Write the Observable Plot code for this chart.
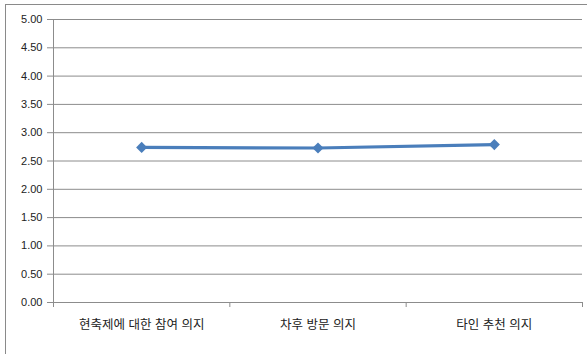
<!DOCTYPE html>
<html>
<head>
<meta charset="utf-8">
<script src="https://cdn.jsdelivr.net/npm/d3@7"></script>
<script src="https://cdn.jsdelivr.net/npm/@observablehq/plot@0.6"></script>
<style>
  html, body { margin: 0; padding: 0; background: #fff; }
  #wrap { position: relative; width: 587px; height: 354px; overflow: hidden; }
  #box { position: absolute; left: 5px; top: 4px; width: 600px; height: 400px; border: 1px solid #8a8a8a; box-sizing: border-box; }
  #wrap svg { position: absolute; left: 0; top: 0; }
</style>
</head>
<body>
<div id="wrap"><div id="box"></div></div>
<script>
// Intention scores per category
const categories = ["현축제에 대한 참여 의지", "차후 방문 의지", "타인 추천 의지"];
const scores = [2.74, 2.73, 2.79];
const yTicks = [0, 0.5, 1, 1.5, 2, 2.5, 3, 3.5, 4, 4.5, 5];

// Each category sits in the middle of its own unit slot along x
const data = categories.map((c, i) => ({pos: i + 0.5, category: c, score: scores[i]}));
const slotEdges = d3.range(categories.length + 1);
const gray = "#8c8c8c";
const font = "'Liberation Sans', 'Noto Sans CJK KR', sans-serif";

const chart = Plot.plot({
  width: 587,
  height: 354,
  marginLeft: 53,
  marginRight: 5,
  marginTop: 19,
  marginBottom: 52,
  style: {fontFamily: font, fontSize: "11px", color: "#222", background: "transparent"},
  x: {domain: [0, categories.length], label: null},
  y: {domain: [0, 5], label: null},
  marks: [
    Plot.ruleY(yTicks, {stroke: gray, strokeWidth: 1, strokeOpacity: 1}),
    Plot.ruleX([0], {stroke: gray, strokeWidth: 1}),
    Plot.axisY({
      ticks: yTicks, tickSize: 6, tickPadding: 5, tickFormat: d => d.toFixed(2),
      stroke: gray, fill: "#222", fontSize: 11, label: null
    }),
    Plot.axisX({
      ticks: slotEdges, tickSize: 5, tickFormat: () => "", stroke: gray, label: null
    }),
    Plot.axisX({
      ticks: data.map(d => d.pos), tickSize: 0, tickPadding: 18,
      tickFormat: (d, i) => categories[i], fill: "#222", fontSize: 12.5, label: null
    }),
    Plot.line(data, {x: "pos", y: "score", stroke: "#4a7ebb", strokeWidth: 3.2}),
    Plot.dot(data, {x: "pos", y: "score", symbol: "diamond2", r: 5, fill: "#4a7ebb", stroke: "none"})
  ]
});
document.getElementById("wrap").appendChild(chart);
</script>
</body>
</html>
